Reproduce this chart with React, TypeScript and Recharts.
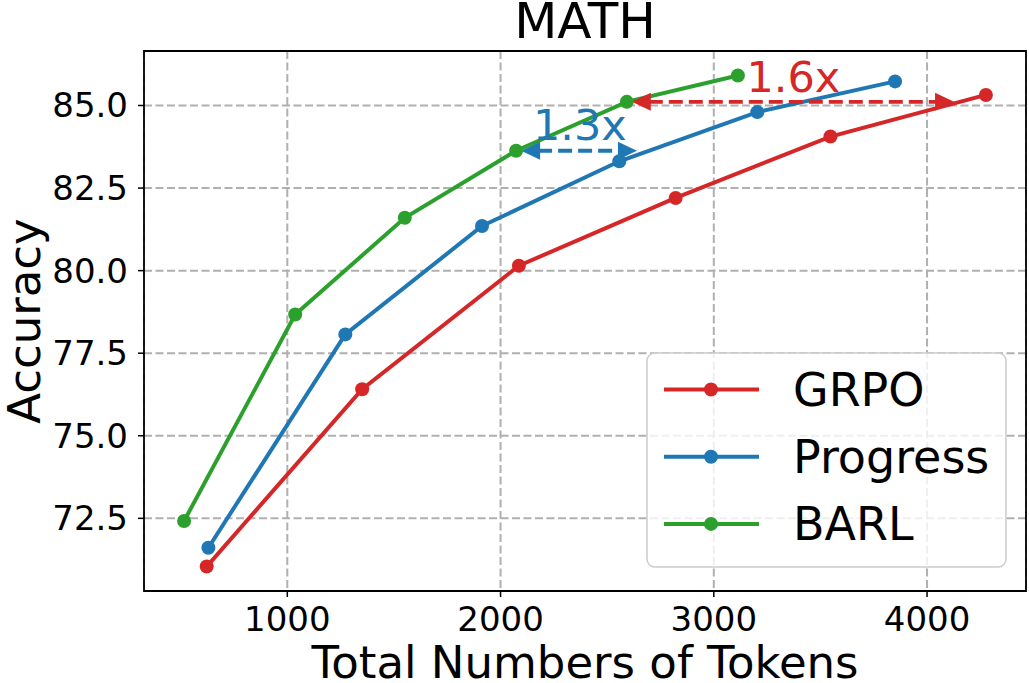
import { LineChart, Line, XAxis, YAxis, CartesianGrid, ReferenceLine, ReferenceDot, ReferenceArea, Customized } from 'recharts'

const FONT = '"DejaVu Sans", sans-serif'
const RED = '#d62728'
const BLUE = '#1f77b4'
const GREEN = '#2ca02c'

// values
const grpoTokens = [622, 1351, 2086, 2821, 3547, 4276]
const grpoAcc = [71.04, 76.41, 80.15, 82.2, 84.06, 85.32]
const progressTokens = [630, 1272, 1913, 2557, 3204, 3850]
const progressAcc = [71.61, 78.07, 81.35, 83.31, 84.8, 85.73]
const barlTokens = [516, 1037, 1551, 2073, 2592, 3113]
const barlAcc = [72.42, 78.67, 81.6, 83.63, 85.11, 85.91]

const xTicks = [1000, 2000, 3000, 4000]
const yTicks = [72.5, 75, 77.5, 80, 82.5, 85]
const xDomain = [328, 4464]
const yDomain = [70.3, 86.65]

const toPoints = (xs: number[], ys: number[]) => xs.map((x, i) => ({ x, y: ys[i] }))

const series = [
  { name: 'GRPO', color: RED, data: toPoints(grpoTokens, grpoAcc) },
  { name: 'Progress', color: BLUE, data: toPoints(progressTokens, progressAcc) },
  { name: 'BARL', color: GREEN, data: toPoints(barlTokens, barlAcc) },
]

// speed-up annotations: arrow span, arrow height, text anchor (baseline)
const arrows = [
  { label: '1.6x', color: RED, from: 2592, to: 4150, y: 85.11, textX: 3373, textY: 85.4 },
  { label: '1.3x', color: BLUE, from: 2073, to: 2663, y: 83.63, textX: 2372, textY: 83.95 },
]

const arrowShape = (color: string) => (props: any) => {
  const { x1, y1, x2, y2 } = props
  const shrink = 5
  const head = 19
  const half = 9
  const a = x1 + shrink
  const b = x2 - shrink
  return (
    <g>
      <line x1={a + head - 2} y1={y1} x2={b - head + 2} y2={y2} stroke={color} strokeWidth={3.8} strokeDasharray="14 6" />
      <polygon points={`${a},${y1} ${a + head},${y1 - half} ${a + head},${y1 + half}`} fill={color} />
      <polygon points={`${b},${y2} ${b - head},${y2 - half} ${b - head},${y2 + half}`} fill={color} />
    </g>
  )
}

const XTick = ({ x, y, payload }: any) => (
  <text x={x} y={y} dy={32} textAnchor="middle" fontSize={34} fontFamily={FONT} fill="#000">
    {payload.value}
  </text>
)

const YTick = ({ x, y, payload }: any) => (
  <text x={x} y={y} dy={12} textAnchor="end" fontSize={34} fontFamily={FONT} fill="#000">
    {Number(payload.value).toFixed(1)}
  </text>
)

const Title = () => (
  <text x={585} y={38} textAnchor="middle" fontSize={50} fontFamily={FONT} fill="#000">
    MATH
  </text>
)

const LegendBox = () => (
  <g>
    <rect x={647} y={353} width={359} height={214} rx={8} fill="#fff" fillOpacity={0.8} stroke="#cccccc" strokeWidth={1.5} />
    {series.map((s, i) => {
      const cy = 389.5 + i * 67.2
      return (
        <g key={s.name}>
          <line x1={664} y1={cy} x2={759} y2={cy} stroke={s.color} strokeWidth={4} />
          <circle cx={711} cy={cy} r={7} fill={s.color} />
          <text x={793} y={cy + 16.5} fontSize={46} fontFamily={FONT} fill="#000">
            {s.name}
          </text>
        </g>
      )
    })}
  </g>
)

export default function App() {
  return (
    <div style={{ position: 'absolute', left: 0, top: 0, background: '#fff' }}>
      <LineChart width={1029} height={683} margin={{ top: 51, right: 3, bottom: 0, left: 0 }}>
        <CartesianGrid stroke="#b0b0b0" strokeWidth={2} strokeDasharray="8 3.5" />
        <XAxis
          type="number"
          dataKey="x"
          domain={xDomain}
          ticks={xTicks}
          allowDataOverflow
          height={92}
          axisLine={false}
          tickLine={{ stroke: '#000', strokeWidth: 1.5 }}
          tickSize={6}
          tickMargin={2}
          tick={<XTick />}
          label={{
            content: ({ viewBox }: any) => (
              <text x={viewBox.x + viewBox.width / 2} y={viewBox.y + 87} textAnchor="middle" fontSize={45} fontFamily={FONT} fill="#000">
                Total Numbers of Tokens
              </text>
            ),
          }}
        />
        <YAxis
          type="number"
          domain={yDomain}
          ticks={yTicks}
          allowDataOverflow
          width={144}
          axisLine={false}
          tickLine={{ stroke: '#000', strokeWidth: 1.5 }}
          tickSize={6}
          tickMargin={10}
          tick={<YTick />}
          label={{
            content: ({ viewBox }: any) => {
              const cy = viewBox.y + viewBox.height / 2
              return (
                <text x={40} y={cy} transform={`rotate(-90 40 ${cy})`} textAnchor="middle" fontSize={45} fontFamily={FONT} fill="#000">
                  Accuracy
                </text>
              )
            },
          }}
        />
        {series.map(s => (
          <Line
            key={s.name}
            data={s.data}
            dataKey="y"
            name={s.name}
            stroke={s.color}
            strokeWidth={4}
            dot={{ r: 7, fill: s.color, stroke: s.color, strokeWidth: 0 }}
            activeDot={false}
            isAnimationActive={false}
          />
        ))}
        {arrows.map(a => (
          <ReferenceLine
            key={a.label + '-line'}
            segment={[{ x: a.from, y: a.y }, { x: a.to, y: a.y }]}
            ifOverflow="visible"
            shape={arrowShape(a.color)}
          />
        ))}
        {arrows.map(a => (
          <ReferenceDot
            key={a.label + '-text'}
            x={a.textX}
            y={a.textY}
            ifOverflow="visible"
            shape={(p: any) => (
              <text x={p.cx} y={p.cy} textAnchor="middle" fontSize={43} fontFamily={FONT} fill={a.color}>
                {a.label}
              </text>
            )}
          />
        ))}
        <ReferenceArea
          x1={xDomain[0]}
          x2={xDomain[1]}
          y1={yDomain[0]}
          y2={yDomain[1]}
          fill="none"
          stroke="#000"
          strokeWidth={1.8}
          ifOverflow="visible"
        />
        <Customized component={Title} />
        <Customized component={LegendBox} />
      </LineChart>
    </div>
  )
}
